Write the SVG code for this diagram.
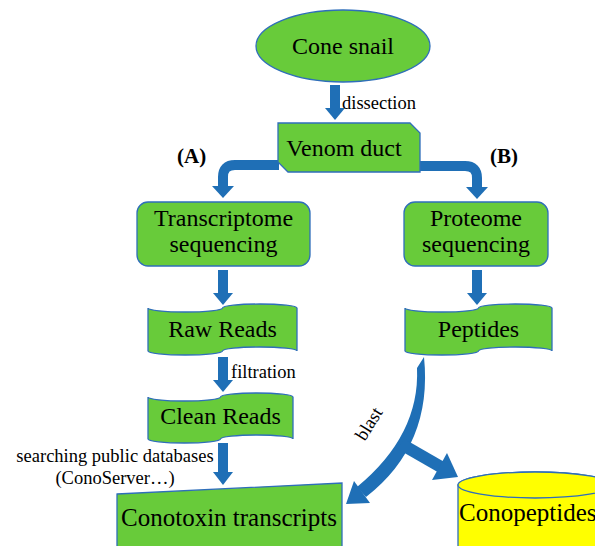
<svg xmlns="http://www.w3.org/2000/svg" width="595" height="546" viewBox="0 0 595 546">
<style>
.node{fill:#68CB3A;stroke:#2F6EBA;stroke-width:1.3}
.cyl{fill:#FFFF00;stroke:#2F6EBA;stroke-width:1.3}
.t{font-family:"Liberation Serif","Times New Roman",serif;font-size:24px;fill:#000;text-anchor:middle}
.s{font-family:"Liberation Serif","Times New Roman",serif;font-size:18.5px;fill:#000}
.b{font-family:"Liberation Serif","Times New Roman",serif;font-size:21px;font-weight:bold;fill:#000}
.sh{stroke:#1F6FB6;stroke-width:10;fill:none}
.hd{fill:#1F6FB6}
</style>
<rect width="595" height="546" fill="#FFFFFF"/>
<g id="connectors">
  <!-- cone snail -> venom duct -->
  <line class="sh" x1="335" y1="85" x2="335" y2="109"/>
  <polygon class="hd" points="325,108 345,108 335,120"/>
  <!-- venom duct -> transcriptome (A) -->
  <path class="sh" d="M279,165 H235 Q223,165 223,177 V188"/>
  <polygon class="hd" points="212,186 234,186 223,198"/>
  <!-- venom duct -> proteome (B) -->
  <path class="sh" d="M420,166 H465 Q477,166 477,178 V188"/>
  <polygon class="hd" points="466,187 488,187 477,199"/>
  <!-- transcriptome -> raw reads -->
  <line class="sh" x1="223" y1="270" x2="223" y2="294"/>
  <polygon class="hd" points="213,293 233,293 223,305"/>
  <!-- raw reads -> clean reads -->
  <line class="sh" x1="223" y1="357" x2="223" y2="381"/>
  <polygon class="hd" points="213,380 233,380 223,392"/>
  <!-- clean reads -> conotoxin -->
  <line class="sh" x1="223" y1="443" x2="223" y2="473"/>
  <polygon class="hd" points="213,472 233,472 223,485"/>
  <!-- proteome -> peptides -->
  <line class="sh" x1="477" y1="270" x2="477" y2="294"/>
  <polygon class="hd" points="467,293 487,293 477,305"/>
  <!-- blast curved arrow -->
  <path class="hd" d="M424,357 Q433,445 366,497 L357,487 Q420,435 417,368 Z"/>
  <polygon class="hd" points="370,503 354,481 346,504"/>
  <!-- branch to conopeptides -->
  <line stroke="#1F6FB6" stroke-width="12" x1="401" y1="444" x2="441" y2="467"/>
  <polygon class="hd" points="432,480 447,453 458,477"/>
  <text class="s" transform="translate(374,427) rotate(-58)" text-anchor="middle">blast</text>
  <text class="s" x="342" y="109">dissection</text>
  <text class="s" x="231" y="378">filtration</text>
  <text class="s" x="115" y="462" text-anchor="middle">searching public databases</text>
  <text class="s" x="115" y="484" text-anchor="middle">(ConoServer…)</text>
  <text class="b" x="177" y="163">(A)</text>
  <text class="b" x="490" y="163">(B)</text>
</g>
<g id="cone-snail">
  <ellipse class="node" cx="343" cy="46" rx="87" ry="36"/>
  <text class="t" x="343" y="54">Cone snail</text>
</g>
<g id="venom-duct">
  <path class="node" d="M278,123 H410 L420,133 V172 H288 L278,162 Z"/>
  <text class="t" x="344" y="156">Venom duct</text>
</g>
<g id="transcriptome-sequencing">
  <rect class="node" x="137" y="202" width="173" height="64" rx="11"/>
  <text class="t" x="223.5" y="226">Transcriptome</text>
  <text class="t" x="223.5" y="252">sequencing</text>
</g>
<g id="proteome-sequencing">
  <rect class="node" x="404" y="202" width="144" height="64" rx="11"/>
  <text class="t" x="476" y="226">Proteome</text>
  <text class="t" x="476" y="252">sequencing</text>
</g>
<g id="raw-reads">
  <path class="node" d="M148,308 A37.25,4 0 0 0 222.5,308 A37.25,4 0 0 1 297,308 V351 A37.25,4 0 0 0 222.5,351 A37.25,4 0 0 1 148,351 Z"/>
  <text class="t" x="222.5" y="337">Raw Reads</text>
</g>
<g id="peptides">
  <path class="node" d="M405,308 A36.75,4 0 0 0 478.5,308 A36.75,4 0 0 1 552,308 V351 A36.75,4 0 0 0 478.5,351 A36.75,4 0 0 1 405,351 Z"/>
  <text class="t" x="478.5" y="337">Peptides</text>
</g>
<g id="clean-reads">
  <path class="node" d="M148,397 A36.25,4 0 0 0 220.5,397 A36.25,4 0 0 1 293,397 V439 A36.25,4 0 0 0 220.5,439 A36.25,4 0 0 1 148,439 Z"/>
  <text class="t" x="220.5" y="424">Clean Reads</text>
</g>
<g id="conotoxin-transcripts">
  <polygon class="node" points="117,494 342,483 342,552 117,552"/>
  <text class="t" x="229" y="526" style="font-size:25px">Conotoxin transcripts</text>
</g>
<g id="conopeptides">
  <path class="cyl" d="M458,485 A77,13 0 0 1 612,485 V552 H458 Z"/>
  <ellipse class="cyl" cx="535" cy="485" rx="77" ry="13"/>
  <text class="t" x="459" y="521" style="font-size:25px;text-anchor:start">Conopeptides</text>
</g>
</svg>
